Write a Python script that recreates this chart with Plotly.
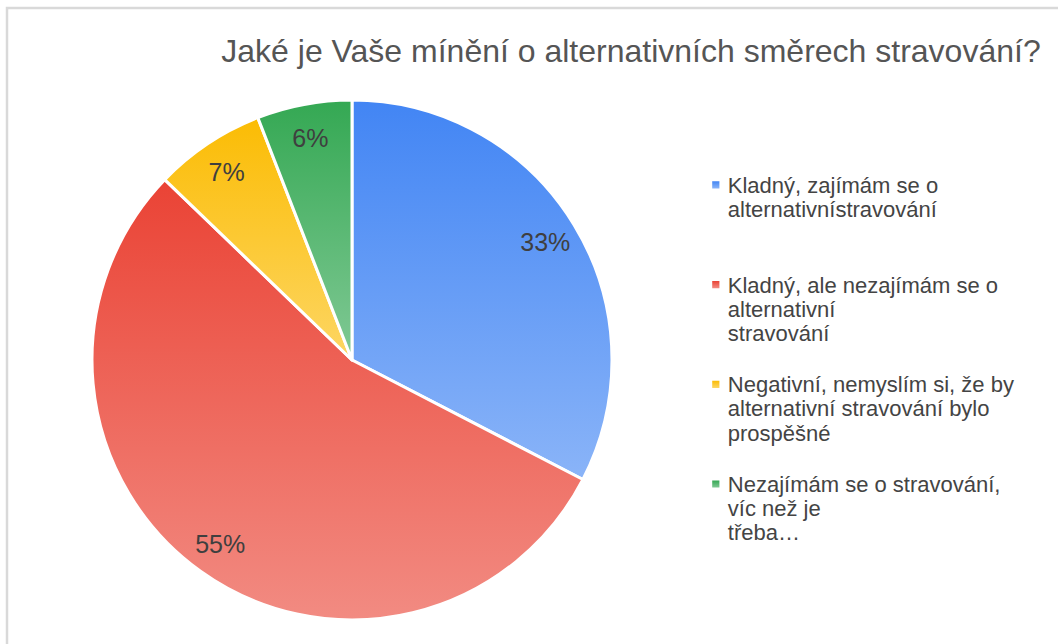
import json
import plotly.graph_objects as go

# ---- data ----
categories = [
    "Kladný, zajímám se o<br>alternativnístravování",
    "Kladný, ale nezajímám se o<br>alternativní<br>stravování",
    "Negativní, nemyslím si, že by<br>alternativní stravování bylo<br>prospěšné",
    "Nezajímám se o stravování,<br>víc než je<br>třeba…",
]
shares = [32.6, 54.6, 6.9, 5.9]
title_text = "Jaké je Vaše mínění o alternativních směrech stravování?"

# ---- style ----
top_colors = ["#4285F4", "#EA4335", "#FBBC04", "#34A853"]
bottom_colors = ["#8AB4F8", "#F28B82", "#FDD663", "#81C995"]
blank_after = [2, 1, 1, 1]   # spacer lines so legend entries are spread like the original
FONT = "Liberation Sans, Arial, sans-serif"
LEG_LINE_FONT = 18.6        # sets legend line pitch
LEG_GLYPH = 22              # glyph size of legend text

W, H = 1058, 644
cx, cy, R = 352, 360, 260
dom = dict(x=[(cx - R) / W, (cx + R) / W], y=[(H - cy - R) / H, (H - cy + R) / H])

legend_labels = [
    '<span style="font-size:%dpx">%s</span>' % (LEG_GLYPH, c) + "<br> " * n
    for c, n in zip(categories, blank_after)
]

# main pie (slices + legend)
pie_main = go.Pie(
    labels=legend_labels,
    values=shares,
    sort=False,
    direction="clockwise",
    rotation=0,
    marker=dict(colors=top_colors, line=dict(color="white", width=3)),
    textinfo="none",
    domain=dom,
    hovertemplate="%{label}<br>%{percent}<extra></extra>",
)
# transparent ring on top, only carrying the percentage labels near the rim
pie_text = go.Pie(
    labels=legend_labels,
    values=shares,
    sort=False,
    direction="clockwise",
    rotation=0,
    hole=0.74,
    marker=dict(colors=["rgba(0,0,0,0)"] * len(shares), line=dict(width=0)),
    textinfo="percent",
    texttemplate="%{percent:.0%}",
    textposition="inside",
    insidetextorientation="horizontal",
    textfont=dict(family=FONT, size=25, color="#3f3f3f"),
    domain=dom,
    showlegend=False,
    hoverinfo="skip",
)

fig = go.Figure([pie_main, pie_text])

fig.update_layout(
    width=W,
    height=H,
    margin=dict(l=0, r=0, t=0, b=0),
    paper_bgcolor="white",
    plot_bgcolor="white",
    title=dict(
        text=title_text,
        x=631 / W,
        xanchor="center",
        y=1 - 51 / H,
        yanchor="middle",
        font=dict(family=FONT, size=32, color="#555555"),
    ),
    legend=dict(
        x=0.6501,
        xanchor="left",
        y=1 - 167 / H,
        yanchor="top",
        font=dict(family=FONT, size=LEG_LINE_FONT, color="#444444"),
        bgcolor="rgba(0,0,0,0)",
    ),
    shapes=[
        dict(
            type="rect",
            xref="paper",
            yref="paper",
            x0=7 / W,
            x1=1.02,
            y0=-0.02,
            y1=1 - 8 / H,
            line=dict(color="#d9d9d9", width=2.5),
            fillcolor="rgba(0,0,0,0)",
            layer="below",
        )
    ],
)

post = """
(function(){
document.body.style.margin = '0';
var gd = document.getElementById('{plot_id}');
var tops = %s, bots = %s;
var L = %f;
function apply(){
  var svg = gd.querySelector('svg.main-svg');
  if(!svg) return;
  var defs = svg.querySelector('defs');
  var ns = 'http://www.w3.org/2000/svg';
  for (var i=0;i<tops.length;i++){
    if (document.getElementById('slgrad'+i)) continue;
    var lg = document.createElementNS(ns,'linearGradient');
    lg.setAttribute('id','slgrad'+i);
    lg.setAttribute('x1','0'); lg.setAttribute('y1','0');
    lg.setAttribute('x2','0'); lg.setAttribute('y2','1');
    var s1 = document.createElementNS(ns,'stop');
    s1.setAttribute('offset','0'); s1.setAttribute('stop-color',tops[i]);
    var s2 = document.createElementNS(ns,'stop');
    s2.setAttribute('offset','1'); s2.setAttribute('stop-color',bots[i]);
    lg.appendChild(s1); lg.appendChild(s2); defs.appendChild(lg);
  }
  var tr = gd.querySelectorAll('.pielayer g.trace');
  if (tr.length) {
    tr[0].querySelectorAll('path.surface').forEach(function(p,i){
      p.style.fill = 'url(#slgrad'+(i%%tops.length)+')';
    });
  }
  gd.querySelectorAll('g.legend path.legendpie').forEach(function(p,i){
    p.style.fill = 'url(#slgrad'+(i%%tops.length)+')';
    p.setAttribute('transform','translate(28,' + (-(1.2*L) - 8) + ') scale(0.6)');
    p.style.strokeWidth = '0';
  });
}
apply();
if (gd.on) gd.on('plotly_afterplot', apply);
setTimeout(apply, 50);
})();
""" % (json.dumps(top_colors), json.dumps(bottom_colors), LEG_LINE_FONT * 1.3)

fig.write_html("out.html", post_script=post, config={"displayModeBar": False})
